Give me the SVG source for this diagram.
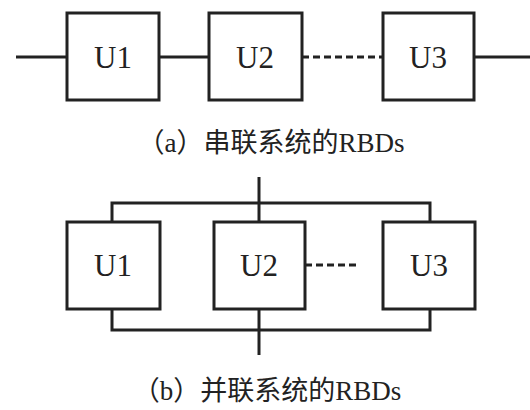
<svg xmlns="http://www.w3.org/2000/svg" width="530" height="410" viewBox="0 0 530 410">
<style>
.box{fill:#fff;stroke:#222;stroke-width:3}
.ln{fill:none;stroke:#222;stroke-width:3}
.dash{fill:none;stroke:#222;stroke-width:3;stroke-dasharray:7,4}
.lbl{font-family:"Liberation Serif","DejaVu Serif",serif;font-size:31px;fill:#222;text-anchor:middle}
.cap{font-family:"Liberation Serif","Noto Sans CJK SC",serif;font-size:27px;fill:#222;text-anchor:middle}
</style>
<rect width="530" height="410" fill="#fff"/>
<g id="connectors">
<line class="ln" x1="16" y1="57" x2="67" y2="57"/>
<line class="ln" x1="159" y1="57" x2="209" y2="57"/>
<line class="dash" x1="302" y1="57" x2="383" y2="57"/>
<line class="ln" x1="474" y1="57" x2="530" y2="57"/>
<line class="ln" x1="259" y1="177" x2="259" y2="222"/>
<polyline class="ln" points="112,222 112,203 430,203 430,222"/>
<polyline class="ln" points="112,309 112,330 430,330 430,309"/>
<line class="ln" x1="259" y1="309" x2="259" y2="355"/>
<line class="dash" x1="305" y1="265" x2="360" y2="265"/>
</g>
<g id="a-U1"><rect class="box" x="67" y="13" width="92" height="87"/><text class="lbl" x="113" y="68">U1</text></g>
<g id="a-U2"><rect class="box" x="209" y="13" width="93" height="87"/><text class="lbl" x="255" y="68">U2</text></g>
<g id="a-U3"><rect class="box" x="383" y="13" width="91" height="87"/><text class="lbl" x="428" y="68">U3</text></g>
<g id="b-U1"><rect class="box" x="67" y="222" width="93" height="87"/><text class="lbl" x="113" y="276">U1</text></g>
<g id="b-U2"><rect class="box" x="214" y="222" width="91" height="87"/><text class="lbl" x="259" y="276">U2</text></g>
<g id="b-U3"><rect class="box" x="383" y="222" width="92" height="87"/><text class="lbl" x="429" y="276">U3</text></g>
<g id="captions">
<text class="cap" x="271" y="152">（a）串联系统的RBDs</text>
<text class="cap" x="267" y="400">（b）并联系统的RBDs</text>
</g>
</svg>
